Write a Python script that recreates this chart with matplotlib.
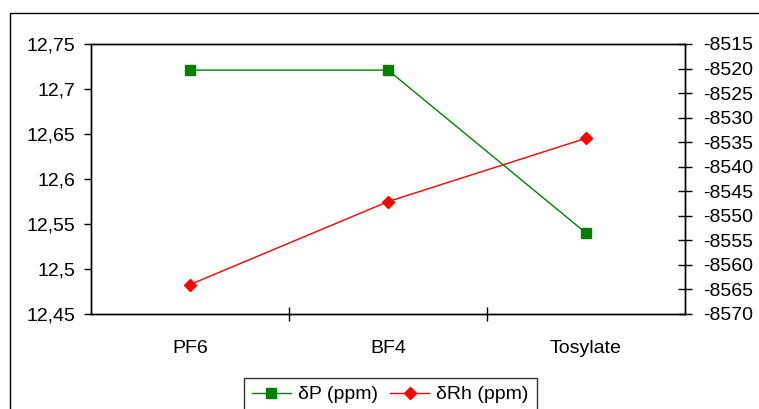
import matplotlib
matplotlib.use("Agg")
import matplotlib.pyplot as plt
from matplotlib.ticker import FuncFormatter, FixedLocator
from matplotlib.patches import Rectangle
from matplotlib.lines import Line2D

categories = ["PF6", "BF4", "Tosylate"]
delta_p = [12.721, 12.721, 12.54]
delta_rh = [-8564.0, -8547.1, -8534.2]
left_ticks = [12.45, 12.5, 12.55, 12.6, 12.65, 12.7, 12.75]
right_ticks = [-8570, -8565, -8560, -8555, -8550, -8545, -8540, -8535, -8530, -8525, -8520, -8515]

plt.rcParams['font.family'] = ['Liberation Sans', 'DejaVu Sans']
FS = 14

fig = plt.figure(figsize=(7.59, 4.09), dpi=100)
ax = fig.add_axes([91/759, 95/409, 594/759, 270/409])
ax2 = ax.twinx()

x = list(range(len(categories)))
ax.plot(x, delta_p, color='#008000', lw=1, marker='s', markersize=6.5, zorder=3)
ax2.plot(x, delta_rh, color='#FF0000', lw=1, marker='D', markersize=6, zorder=3)

ax.set_xlim(-0.5, len(categories) - 0.5)
ax.set_ylim(12.45, 12.75)
ax2.set_ylim(-8570, -8515)

ax.yaxis.set_major_locator(FixedLocator(left_ticks))
ax.yaxis.set_major_formatter(FuncFormatter(lambda v, p: ('%g' % round(v, 2)).replace('.', ',')))
ax2.yaxis.set_major_locator(FixedLocator(right_ticks))
ax2.yaxis.set_major_formatter(FuncFormatter(lambda v, p: '%d' % round(v)))

ax.set_xticks([0.5, 1.5])
ax.set_xticklabels([])
ax.set_xticks(x, minor=True)
ax.set_xticklabels(categories, minor=True)
ax.tick_params(axis='x', which='major', direction='inout', length=10, width=1, color='black')
ax.tick_params(axis='x', which='minor', length=0, pad=19, labelsize=FS)
ax.tick_params(axis='y', direction='out', length=5, width=1, pad=6, labelsize=FS)
ax2.tick_params(axis='y', direction='inout', length=10, width=1, pad=8, labelsize=FS)

for a in (ax, ax2):
    for s in a.spines.values():
        s.set_linewidth(1)
        s.set_color('black')

# outer chart frame
fig.patches.append(Rectangle((10/759, -0.1), 1.2, 396/409 + 0.1, transform=fig.transFigure,
                             fill=False, edgecolor='black', lw=1, clip_on=False))

handles = [Line2D([], [], color='#008000', lw=1, marker='s', markersize=6.5),
           Line2D([], [], color='#FF0000', lw=1, marker='D', markersize=6)]
leg = fig.legend(handles, ['δP (ppm)', 'δRh (ppm)'], loc='upper left',
                 bbox_to_anchor=(244/759, 31/409), ncol=2, frameon=True, fancybox=False,
                 edgecolor='black', fontsize=FS, handlelength=2.0, columnspacing=0.64,
                 handletextpad=0.37, borderpad=0.4, borderaxespad=0)
leg.get_frame().set_linewidth(1)

fig.savefig('out.png', dpi=100)
